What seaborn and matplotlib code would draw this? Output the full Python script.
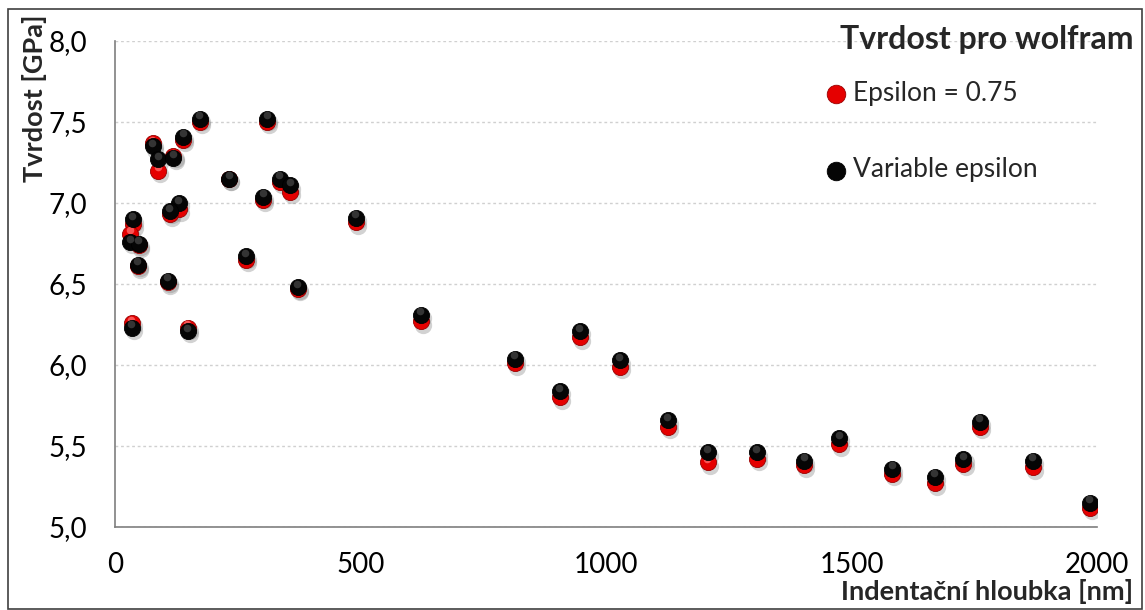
import matplotlib
matplotlib.use("Agg")
import matplotlib.pyplot as plt
import matplotlib.transforms as mtransforms
from matplotlib.patches import Rectangle
import seaborn as sns
import pandas as pd

# indentation depth [nm]
depth = [173, 310, 139, 77, 88, 119, 233, 336, 357, 302, 130, 112, 36, 31, 49,
         490, 267, 47, 107, 372, 34, 148, 623, 947, 815, 1028, 906, 1126, 1208,
         1307, 1404, 1475, 1583, 1670, 1728, 1762, 1870, 1986]
# hardness [GPa], epsilon = 0.75
hard_eps075 = [7.50, 7.50, 7.39, 7.37, 7.20, 7.29, 7.15, 7.13, 7.07, 7.02, 6.96,
               6.93, 6.87, 6.81, 6.74, 6.88, 6.65, 6.61, 6.51, 6.47, 6.26, 6.23,
               6.27, 6.17, 6.01, 5.99, 5.80, 5.62, 5.40, 5.42, 5.38, 5.51, 5.33,
               5.27, 5.39, 5.62, 5.37, 5.12]
# hardness [GPa], variable epsilon
hard_var = [7.52, 7.52, 7.41, 7.35, 7.27, 7.28, 7.15, 7.15, 7.11, 7.04, 7.00,
            6.95, 6.90, 6.76, 6.75, 6.91, 6.67, 6.62, 6.52, 6.48, 6.23, 6.21,
            6.31, 6.21, 6.04, 6.03, 5.84, 5.66, 5.46, 5.46, 5.41, 5.55, 5.36,
            5.31, 5.42, 5.65, 5.41, 5.15]
series_names = ["Epsilon = 0.75", "Variable epsilon"]

df = pd.DataFrame({"depth": depth, "eps075": hard_eps075, "var": hard_var})

sns.set_style("white")
plt.rcParams["font.family"] = ["Lato", "DejaVu Sans"]

fig = plt.figure(figsize=(11.45, 6.10), dpi=100)
ax = fig.add_axes([115 / 1145, 1 - 527 / 610, 982 / 1145, 486 / 610])

def shifted(dx, dy):
    return mtransforms.offset_copy(ax.transData, fig=fig, x=dx, y=dy, units="points")

S = 135
# shadows
for col in ["eps075", "var"]:
    sns.scatterplot(data=df, x="depth", y=col, ax=ax, s=S + 20, color="#7f7f7f",
                    alpha=0.35, linewidth=0, transform=shifted(1.5, -2.5), zorder=2)
# spheres: red first, black on top
sns.scatterplot(data=df, x="depth", y="eps075", ax=ax, s=S, color="#e50000",
                edgecolor="#9a0000", linewidth=0.6, zorder=3, label=series_names[0])
sns.scatterplot(data=df, x="depth", y="eps075", ax=ax, s=30, color="#ff6b6b",
                linewidth=0, alpha=0.8, transform=shifted(-0.5, 2.4), zorder=3.1)
sns.scatterplot(data=df, x="depth", y="var", ax=ax, s=S, color="#050505",
                edgecolor="#000000", linewidth=0.6, zorder=4, label=series_names[1])
sns.scatterplot(data=df, x="depth", y="var", ax=ax, s=30, color="#555555",
                linewidth=0, alpha=0.6, transform=shifted(-0.5, 2.4), zorder=4.1)

ax.set_xlim(0, 2000)
ax.set_ylim(5.0, 8.0)
ax.set_xticks([0, 500, 1000, 1500, 2000])
ax.set_yticks([5.0, 5.5, 6.0, 6.5, 7.0, 7.5, 8.0])
ax.set_yticklabels([f"{v:.1f}".replace(".", ",") for v in ax.get_yticks()])
ax.yaxis.grid(True, linestyle=(0, (2, 2)), color="#d0d0d0", linewidth=1)
ax.xaxis.grid(False)
ax.set_axisbelow(True)
for side in ["top", "right"]:
    ax.spines[side].set_visible(False)
for side in ["left", "bottom"]:
    ax.spines[side].set_color("#7f7f7f")
    ax.spines[side].set_linewidth(1.2)
ax.tick_params(axis="both", which="major", direction="out", length=6, width=1.2,
               color="#7f7f7f", labelsize=20, labelcolor="black")
ax.tick_params(axis="y", pad=14)
ax.tick_params(axis="x", pad=12)
ax.set_xlabel("")
ax.set_ylabel("")

fig.text(35 / 1145, 1 - 14 / 610, "Tvrdost [GPa]", rotation=90, ha="center", va="top",
         fontsize=19.5, fontweight="bold")
fig.text(1133 / 1145, 1 - 592 / 610, "Indentační hloubka [nm]", ha="right", va="center",
         fontsize=19.5, fontweight="bold")
fig.text(1133 / 1145, 1 - 40 / 610, "Tvrdost pro wolfram", ha="right", va="center",
         fontsize=23, fontweight="bold")

handles, labels = ax.get_legend_handles_labels()
leg = ax.legend(handles, labels, loc="upper left", bbox_to_anchor=(824 / 1145, 1 - 81 / 610),
                bbox_transform=fig.transFigure, frameon=False, fontsize=19,
                labelspacing=1.95, handletextpad=0.2, borderpad=0, borderaxespad=0,
                handlelength=0.9, markerscale=1.15)

fig.patches.append(Rectangle((8 / 1145, 1 / 610), 1134 / 1145, 600 / 610,
                             transform=fig.transFigure, fill=False,
                             edgecolor="#404040", linewidth=1.2))

fig.savefig("out.png", dpi=100)
